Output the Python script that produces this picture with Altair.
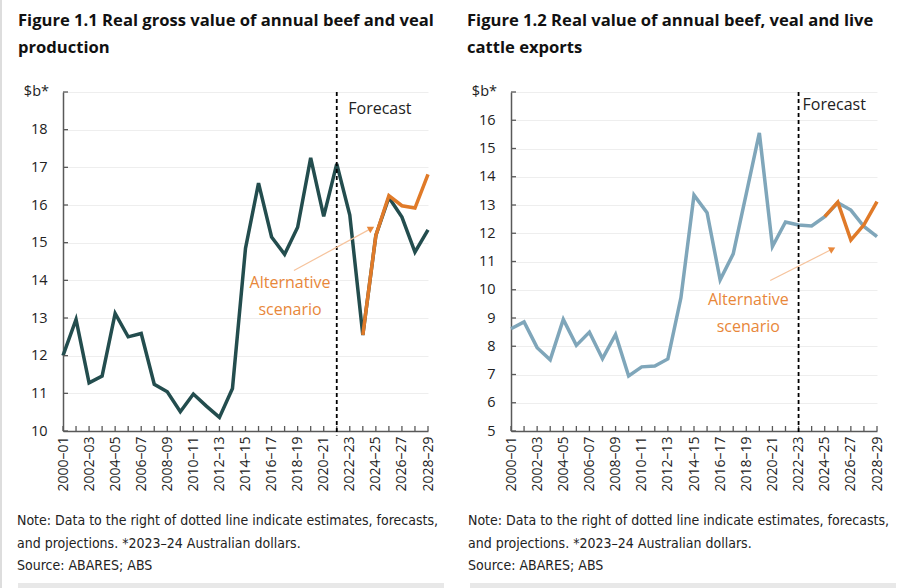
import altair as alt
import pandas as pd

categories = [
    "2000–01", "2001–02", "2002–03", "2003–04", "2004–05", "2005–06", "2006–07",
    "2007–08", "2008–09", "2009–10", "2010–11", "2011–12", "2012–13", "2013–14",
    "2014–15", "2015–16", "2016–17", "2017–18", "2018–19", "2019–20", "2020–21",
    "2021–22", "2022–23", "2023–24", "2024–25", "2025–26", "2026–27", "2027–28",
    "2028–29",
]
label_categories = categories[::2]

# Figure 1.1 - real gross value of beef and veal production ($b)
production_main = [12.0, 12.96, 11.28, 11.46, 13.12, 12.5, 12.59, 11.24, 11.04, 10.51,
                   10.98, 10.66, 10.36, 11.13, 14.85, 16.58, 15.15, 14.69, 15.41, 17.25,
                   15.70, 17.09, 15.73, 12.55, 15.19, 16.2, 15.68, 14.75, 15.34]
production_alt_cats = ["2023–24", "2024–25", "2025–26", "2026–27", "2027–28", "2028–29"]
production_alt = [12.55, 15.19, 16.25, 15.98, 15.92, 16.81]

# Figure 1.2 - real value of beef, veal and live cattle exports ($b)
exports_main = [8.62, 8.86, 7.95, 7.52, 8.95, 8.03, 8.5, 7.56, 8.42, 6.95,
                7.27, 7.3, 7.55, 9.72, 13.35, 12.73, 10.35, 11.27, 13.4, 15.55,
                11.53, 12.4, 12.29, 12.26, 12.59, 13.08, 12.82, 12.24, 11.88]
exports_alt_cats = ["2024–25", "2025–26", "2026–27", "2027–28", "2028–29"]
exports_alt = [12.59, 13.1, 11.76, 12.3, 13.12]

FONT = "Open Sans"
ORANGE = "#e07a28"
ORANGE_TEXT = "#e8873a"


def panel(main, alt_cats, alt_vals, line_color, x_range, y_min, y_max, y_range,
          axis_offset, forecast_cat, forecast_dx, forecast_y,
          alt_text_cat, alt_text_dx, alt_text_ys, arrow):
    xs = alt.Scale(type="point", domain=categories, range=x_range, padding=0)
    ys = alt.Scale(domain=[y_min, y_max], range=y_range, nice=False, zero=False)
    y_vals = list(range(y_min, y_max + 1))
    x_axis = alt.Axis(orient="bottom", offset=-157, values=label_categories,
                      labelAngle=-90, ticks=False, tickSize=0, labelPadding=5,
                      domainColor="#595959", domainWidth=1.5, grid=False,
                      labelFont=FONT, labelFontSize=14, labelColor="#222222")
    y_axis = alt.Axis(orient="left", offset=axis_offset, values=y_vals,
                      labelExpr=f"datum.value == {y_max} ? '' : datum.label",
                      ticks=False, tickSize=0, labelPadding=16,
                      domainColor="#595959", domainWidth=1.5,
                      grid=True, gridColor="#eeeeee", gridWidth=1,
                      labelFont=FONT, labelFontSize=14.5, labelColor="#222222")

    def XF(field):
        return alt.X(field, scale=xs, axis=x_axis, title=None, sort=categories)

    def XD(v):
        return alt.X(datum=v, type="nominal", scale=xs, axis=x_axis, title=None)

    def YF(field):
        return alt.Y(field, scale=ys, axis=y_axis, title=None)

    def YD(v):
        return alt.Y(datum=v, type="quantitative", scale=ys, axis=y_axis, title=None)

    df_main = pd.DataFrame({"cat": categories, "v": main})
    df_alt = pd.DataFrame({"cat": alt_cats, "v": alt_vals})
    df_yt = pd.DataFrame({"v": y_vals})
    df_xt = pd.DataFrame({"cat": categories})
    one = pd.DataFrame({"k": [0]})

    main_line = alt.Chart(df_main).mark_line(
        color=line_color, strokeWidth=3.5, strokeJoin="miter"
    ).encode(x=XF("cat:N"), y=YF("v:Q"))

    alt_line = alt.Chart(df_alt).mark_line(
        color=ORANGE, strokeWidth=3.5, strokeJoin="miter"
    ).encode(x=XF("cat:N"), y=YF("v:Q"))

    y_ticks = alt.Chart(df_yt).mark_rule(
        color="#595959", strokeWidth=1.3, x2Offset=5
    ).encode(x=XD(categories[0]), x2=alt.X2(datum=categories[0]), y=YF("v:Q"))

    x_ticks = alt.Chart(df_xt).mark_rule(
        color="#595959", strokeWidth=1.3, y2Offset=-5
    ).encode(x=XF("cat:N"), y=YD(y_min), y2=alt.Y2(datum=y_min))

    forecast_rule = alt.Chart(one).mark_rule(
        color="black", strokeWidth=1.8, strokeDash=[4, 3]
    ).encode(x=XD(forecast_cat), y=YD(y_max), y2=alt.Y2(datum=y_min - 0.12))

    forecast_text = alt.Chart(one).mark_text(
        text="Forecast", align="left", baseline="middle", dx=forecast_dx,
        font=FONT, fontSize=16, fontWeight="normal", color="#222222"
    ).encode(x=XD(forecast_cat), y=YD(forecast_y))

    alt_t1 = alt.Chart(one).mark_text(
        text="Alternative", align="center", baseline="middle", dx=alt_text_dx,
        font=FONT, fontSize=16, fontWeight="normal", color=ORANGE_TEXT
    ).encode(x=XD(alt_text_cat), y=YD(alt_text_ys[0]))
    alt_t2 = alt.Chart(one).mark_text(
        text="scenario", align="center", baseline="middle", dx=alt_text_dx,
        font=FONT, fontSize=16, fontWeight="normal", color=ORANGE_TEXT
    ).encode(x=XD(alt_text_cat), y=YD(alt_text_ys[1]))

    unit = alt.Chart(one).mark_text(
        text="$b*", align="right", baseline="middle", dx=-14,
        font=FONT, fontSize=14.5, fontWeight="normal", color="#222222"
    ).encode(x=XD(categories[0]), y=YD(y_max))

    (c0, off0, y0), (c1, off1, y1), angle = arrow
    arrow_line = alt.Chart(one).mark_rule(
        color="#f6c39c", strokeWidth=1.2, xOffset=off0, x2Offset=off1
    ).encode(x=XD(c0), x2=alt.X2(datum=c1), y=YD(y0), y2=alt.Y2(datum=y1))
    arrow_head = alt.Chart(one).mark_point(
        shape="triangle-right", filled=True, size=55, angle=angle,
        color="#e8873a", opacity=1, xOffset=off1
    ).encode(x=XD(c1), y=YD(y1))

    return alt.layer(main_line, y_ticks, x_ticks, forecast_rule, alt_line,
                     arrow_line, arrow_head, forecast_text, alt_t1, alt_t2, unit)


left = panel(production_main, production_alt_cats, production_alt, "#234d4e",
             [63, 428], 10, 19, [431, 92], -63,
             "2021–22", 11.5, 18.56, "2017–18", 5.4, [13.92, 13.2],
             (("2018–19", -3.7, 14.26), ("2024–25", -4.5, 15.38), 331.5))

right = panel(exports_main, exports_alt_cats, exports_alt, "#7fa6ba",
              [511, 877], 5, 17, [431, 92], -511,
              "2022–23", 4, 16.53, "2018–19", 2, [9.62, 8.68],
              (("2020–21", -2.2, 10.33), ("2025–26", -5.4, 11.44), 333))


def txt(s, x, y, size, weight="normal", font=FONT, color="#111111"):
    return alt.Chart(pd.DataFrame({"t": [s]})).mark_text(
        align="left", baseline="middle", font=font, fontSize=size,
        fontWeight=weight, color=color
    ).encode(x=alt.value(x), y=alt.value(y), text="t:N")


titles = [
    txt("Figure 1.1 Real gross value of annual beef and veal", 18, 21, 16.6, "bold"),
    txt("production", 18, 48, 16.6, "bold"),
    txt("Figure 1.2 Real value of annual beef, veal and live", 467, 21, 16.6, "bold"),
    txt("cattle exports", 467, 48, 16.6, "bold"),
]
NOTE_FONT = "DejaVu Sans Condensed, Liberation Sans, sans-serif"
notes = []
for x0 in (17, 468):
    notes += [
        txt("Note: Data to the right of dotted line indicate estimates, forecasts,", x0, 521, 14, font=NOTE_FONT, color="#222222"),
        txt("and projections. *2023–24 Australian dollars.", x0, 544, 14, font=NOTE_FONT, color="#222222"),
        txt("Source: ABARES; ABS", x0, 566, 14, font=NOTE_FONT, color="#222222"),
    ]

border = alt.Chart(pd.DataFrame({"a": [0]})).mark_rule(color="#dddddd", strokeWidth=2).encode(
    x=alt.value(1), y=alt.value(0), y2=alt.value(588))
bars = alt.Chart(pd.DataFrame({"a": [0]})).mark_rect(color="#e8e8e8").encode(
    x=alt.value(18), x2=alt.value(444), y=alt.value(583), y2=alt.value(588))
bars2 = alt.Chart(pd.DataFrame({"a": [0]})).mark_rect(color="#e8e8e8").encode(
    x=alt.value(470), x2=alt.value(896), y=alt.value(583), y2=alt.value(588))

chart = alt.layer(left, right, *titles, *notes, border, bars, bars2).resolve_scale(
    x="independent", y="independent"
).properties(
    width=911, height=588, padding=0, background="white",
    autosize=alt.AutoSizeParams(type="none"),
).configure_view(stroke=None)

chart.save("out.html", embed_options={"renderer": "svg", "actions": False})
